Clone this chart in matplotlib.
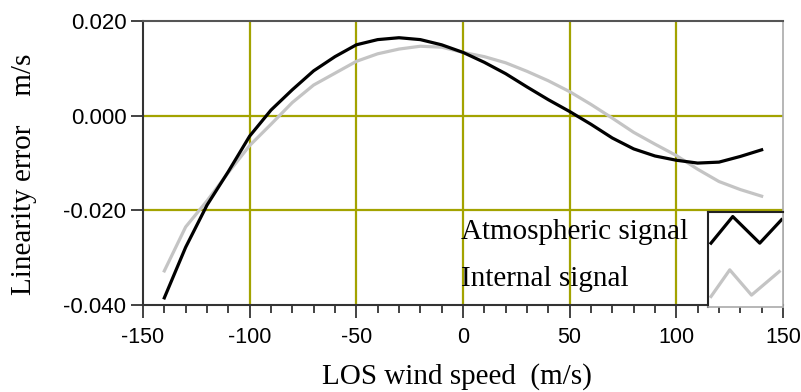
import numpy as np
import matplotlib
matplotlib.use("Agg")
import matplotlib.pyplot as plt

# LOS wind speed (m/s)
speed = [-140, -130, -120, -110, -100, -90, -80, -70, -60, -50, -40, -30, -20, -10, 0,
         10, 20, 30, 40, 50, 60, 70, 80, 90, 100, 110, 120, 130, 140]
# linearity error (m/s), atmospheric signal
atmos = [-0.0385, -0.0278, -0.0189, -0.0118, -0.0043, 0.0012, 0.0055, 0.0095, 0.0125,
         0.0150, 0.0161, 0.0165, 0.0161, 0.0150, 0.0134, 0.0113, 0.0089, 0.0061, 0.0034,
         0.0009, -0.0018, -0.0047, -0.0070, -0.0085, -0.0094, -0.0100, -0.0098, -0.0086,
         -0.0072]
# linearity error (m/s), internal signal
internal = [-0.0328, -0.0235, -0.0180, -0.0120, -0.0063, -0.0018, 0.0028, 0.0065, 0.0090,
            0.0115, 0.0131, 0.0141, 0.0147, 0.0145, 0.0134, 0.0125, 0.0112, 0.0094, 0.0074,
            0.0051, 0.0024, -0.0005, -0.0035, -0.0060, -0.0084, -0.0113, -0.0139, -0.0156,
            -0.0170]

xticks = [-150, -100, -50, 0, 50, 100, 150]
yticks = [-0.040, -0.020, 0.000, 0.020]

# legend glyph shapes (box-relative)
zig_black_x = [0.04, 0.33, 0.69, 0.98]
zig_black_y = [0.667, 0.947, 0.667, 0.913]
zig_gray_x = [0.04, 0.29, 0.58, 0.95]
zig_gray_y = [0.105, 0.386, 0.12, 0.368]

plt.rcParams['font.family'] = ['Liberation Serif', 'DejaVu Serif']
tick_font = ['Liberation Sans', 'DejaVu Sans']
grid_col = '#a3a300'
gray_col = '#c4c4c4'

fig = plt.figure(figsize=(8.01, 3.92), dpi=100)
ax = fig.add_axes([0.1785, 0.222, 0.799, 0.724])

for v in [-100, -50, 0, 50, 100]:
    ax.axvline(v, color=grid_col, lw=1.6, zorder=1)
for v in [0.0, -0.020]:
    ax.axhline(v, color=grid_col, lw=1.6, zorder=1)

ax.plot(speed, internal, color=gray_col, lw=2.3, zorder=3)
ax.plot(speed, atmos, color='black', lw=2.3, zorder=4)

ax.set_xlim(-150, 150)
ax.set_ylim(-0.040, 0.020)
ax.set_xticks(xticks)
ax.set_xticklabels(['%d' % v for v in xticks], family=tick_font, fontsize=15.5)
ax.set_xticks(np.arange(-150, 151, 10), minor=True)
ax.set_yticks(yticks)
ax.set_yticklabels(['%.3f' % v for v in yticks], family=tick_font, fontsize=16)
ax.tick_params(axis='both', which='major', length=9, width=1.2, color='#222222')
ax.tick_params(axis='x', which='minor', length=6, width=1.2, color='#222222')
ax.tick_params(axis='y', pad=3)
ax.tick_params(axis='x', pad=7)

for s in ['left', 'bottom']:
    ax.spines[s].set_color('#333333')
    ax.spines[s].set_linewidth(1.5)
ax.spines['top'].set_color('#555555')
ax.spines['top'].set_linewidth(1.5)
ax.spines['right'].set_color('#aaaaaa')
ax.spines['right'].set_linewidth(1.2)

ax.set_xlabel('LOS wind speed  (m/s)', fontsize=21)
ax.xaxis.set_label_coords(0.49, -0.205)
ax.set_ylabel('Linearity error    m/s', fontsize=21)
ax.yaxis.set_label_coords(-0.166, 0.46)

ax.text(-1, -0.0245, 'Atmospheric signal', fontsize=21, va='center', ha='left', zorder=5)
ax.text(-1, -0.0345, 'Internal signal', fontsize=21, va='center', ha='left', zorder=5)

# legend box
lg = fig.add_axes([708 / 801, (392 - 306.5) / 392, 75 / 801, 95 / 392])
lg.set_xlim(0, 1)
lg.set_ylim(0, 1)
lg.set_xticks([])
lg.set_yticks([])
lg.plot(zig_black_x, zig_black_y, color='black', lw=2.3)
lg.plot(zig_gray_x, zig_gray_y, color=gray_col, lw=2.3)
for s in ['left', 'top']:
    lg.spines[s].set_color('#222222')
    lg.spines[s].set_linewidth(1.5)
for s in ['right', 'bottom']:
    lg.spines[s].set_color('#aaaaaa')
    lg.spines[s].set_linewidth(1.2)

fig.savefig('out.png', dpi=100)
